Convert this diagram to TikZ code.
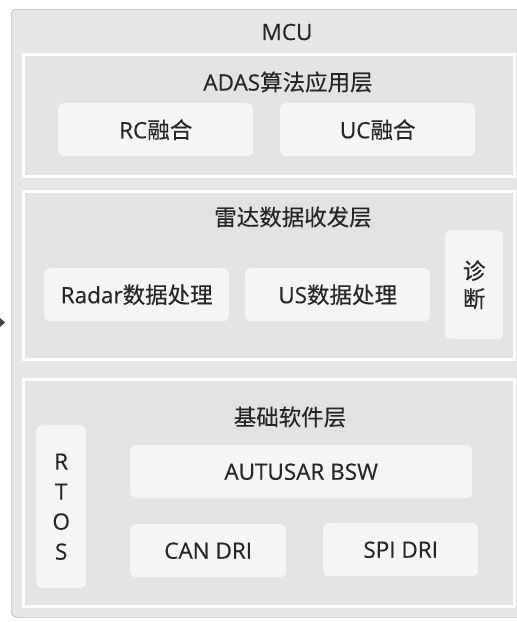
\documentclass[tikz,border=0pt]{standalone}
\usepackage{fontspec}
\setmainfont{Open Sans}[FakeBold=0.35]
\newfontfamily\cjk{Noto Sans CJK SC}[FakeBold=0.25]
\usetikzlibrary{positioning}
\definecolor{mcufill}{HTML}{E6E6E5}
\definecolor{mcuedge}{HTML}{A3A3A3}
\definecolor{layerfill}{HTML}{E4E3E2}
\definecolor{boxfill}{HTML}{F4F5F5}
\definecolor{txt}{HTML}{262626}
\tikzset{
    layer/.style={draw=white, line width=3pt, fill=layerfill, anchor=north west, inner sep=0pt},
    unitbox/.style={fill=boxfill, rounded corners=6pt, anchor=north west, inner sep=0pt, text=txt, align=center},
    title/.style={text=txt},
}
\begin{document}
\begin{tikzpicture}[x=1pt,y=-1pt,font=\fontsize{22.5}{26}\selectfont]
                \useasboundingbox (0,0) rectangle (517,622);
                \clip (0,0) rectangle (517,622);
                \fill[white] (0,0) rectangle (517,622);
                % \draw[step=10pt, gray, very thin] (0,0) grid (517,622);
                \node[draw=mcuedge, fill=mcufill, rounded corners=6pt, anchor=north west,
                      minimum width=530pt, minimum height=608pt, inner sep=0pt] (mcu) at (11,9) {};
                \node[title] (mcutitle) at (287,32) {MCU};
                \fill[black!75] (0,318) -- (5,322.5) -- (0,327) -- cycle;

                \foreach \name/\top/\h in {adas/53/122,radar/190/168,base/378/227} {
                        \node[layer, minimum width=491pt, minimum height=\h pt] (\name) at (22,\top) {};
                    }
                \node[title] (adastitle) at (288,82) {ADAS{\cjk 算法应用层}};
                \node[title] (radartitle) at (293,217) {\cjk 雷达数据收发层};
                \node[title] (basetitle) at (290,417) {\cjk 基础软件层};

                \begin{scope}
                    \pgfmathsetmacro{\boxh}{53}
                    \foreach \name/\x/\y/\w/\txt in {rc/58/103/195/RC{\cjk 融合},uc/280/103/195/UC{\cjk 融合},
                            radarproc/44/268/185/Radar{\cjk 数据处理},usproc/245/268/185/US{\cjk 数据处理},
                            bsw/130/445/342/AUTUSAR BSW,can/130/524/156/CAN DRI,spi/323/523/155/SPI DRI} {
                            \node[unitbox, minimum width=\w pt, minimum height=\boxh pt] (\name) at (\x,\y) {\txt};
                        }
                    \node[unitbox, minimum width=58pt, minimum height=109pt, font=\fontsize{22.5}{28}\cjk] (diag) at (445,230)
                        {诊\\断};
                    \node[unitbox, minimum width=50pt, minimum height=163pt, font=\fontsize{22.5}{30}\selectfont] (rtos) at (36,425)
                        {R\\T\\O\\S};
                \end{scope}
            \end{tikzpicture}
\end{document}
